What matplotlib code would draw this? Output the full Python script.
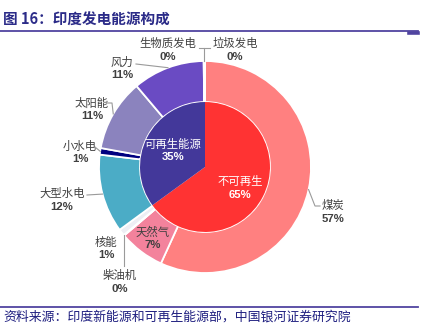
import matplotlib
matplotlib.use("Agg")
import matplotlib.pyplot as plt
from matplotlib.lines import Line2D
import numpy as np

plt.rcParams['font.family'] = ['Noto Sans CJK SC', 'DejaVu Sans']

# ---- data ----
outer_labels = ['煤炭', '天然气', '柴油机', '核能', '大型水电', '小水电', '太阳能', '风力', '生物质发电', '垃圾发电']
outer_values = [57, 7, 0.1, 1, 12, 1, 11, 11, 0.1, 0.1]
outer_colors = ['#FF8080', '#F3829C', '#E0E0E0', '#EEEEF4', '#4BACC6', '#000080', '#8B83BE', '#6A4BC3', '#6A4BC3', '#FF8080']
inner_labels = ['不可再生', '可再生能源']
inner_values = [65, 35]
inner_colors = ['#FF3333', '#43389A']

W, H = 429, 332
CX, CY, R = 205, 167, 106

fig = plt.figure(figsize=(W / 100, H / 100), dpi=100)
ax = fig.add_axes([(CX - R) / W, (H - CY - R) / H, 2 * R / W, 2 * R / H])
ax.axis('off')

ow, _ = ax.pie(outer_values, radius=1, startangle=90, counterclock=False, colors=outer_colors,
               wedgeprops=dict(width=0.387, edgecolor='white', linewidth=1.3))
iw, _ = ax.pie(inner_values, radius=0.613, startangle=90, counterclock=False, colors=inner_colors,
               wedgeprops=dict(linewidth=0))
ax.set_xlim(-1, 1)
ax.set_ylim(-1, 1)


def fp(x, y):
    return x / W, 1 - y / H


def edge_px(w, r=1.0):
    a = np.deg2rad((w.theta1 + w.theta2) / 2)
    return CX + R * r * np.cos(a), CY - R * r * np.sin(a)


lc = '#9A9A9A'
dark = '#404040'


def label(name, pct, x, y, color=dark, dy=13.5):
    fig.text(*fp(x, y), name, ha='center', va='center', fontsize=8.2, color=color)
    fig.text(*fp(x, y + dy), pct, ha='center', va='center', fontsize=8.2, fontweight='bold',
             color=color, family=['Liberation Sans', 'DejaVu Sans'])


def leader(points):
    xs = [p[0] / W for p in points]
    ys = [1 - p[1] / H for p in points]
    fig.add_artist(Line2D(xs, ys, color=lc, lw=0.8))


# label layout (pixel positions)
pos = {
    '煤炭': (333, 205), '天然气': (153, 232), '柴油机': (120, 275), '核能': (106, 242),
    '大型水电': (62, 193), '小水电': (80, 146), '太阳能': (92, 103), '风力': (122, 62),
    '生物质发电': (168, 43), '垃圾发电': (235, 43),
}
for name, v in zip(outer_labels, outer_values):
    x, y = pos[name]
    label(name, f"{round(v)}%", x, y)

wmap = dict(zip(outer_labels, ow))
# leader lines
p = edge_px(wmap['煤炭']); leader([p, (315, 206), (320, 206)])
p = edge_px(wmap['风力']); leader([(136, 64), p])
p = edge_px(wmap['太阳能']); leader([(107, 103), (112, 103), p])
p = edge_px(wmap['小水电']); leader([(95, 147), p])
p = edge_px(wmap['大型水电']); leader([(87, 195), p])
p = edge_px(wmap['柴油机']); leader([(p[0], p[1]), (p[0], 266)])
pb = edge_px(wmap['生物质发电']); leader([pb, (pb[0], 48), (199, 48)])
leader([(pb[0], 48), (210, 48)])

# inner labels
label('可再生能源', f"{inner_values[1]}%", 173, 144, color='white')
label('不可再生', f"{inner_values[0]}%", 240, 181, color='white')

# title & decorations
fig.text(*fp(3, 20), '图 16：印度发电能源构成', ha='left', va='center', fontsize=10.5,
         fontweight='bold', color='#2B2B88')
fig.add_artist(Line2D([0, 418 / W], [1 - 31 / H] * 2, color='#5044A0', lw=1.3))
fig.add_artist(Line2D([409 / W, 418 / W], [1 - 32.5 / H] * 2, color='#5044A0', lw=2.6))
fig.add_artist(Line2D([0, 418 / W], [1 - 307 / H] * 2, color='#5044A0', lw=1.3))
fig.text(*fp(3, 317), '资料来源：印度新能源和可再生能源部，中国银河证券研究院', ha='left', va='center',
         fontsize=9.3, color='#1F1F80', style='italic')

fig.savefig('out.png', dpi=100)
